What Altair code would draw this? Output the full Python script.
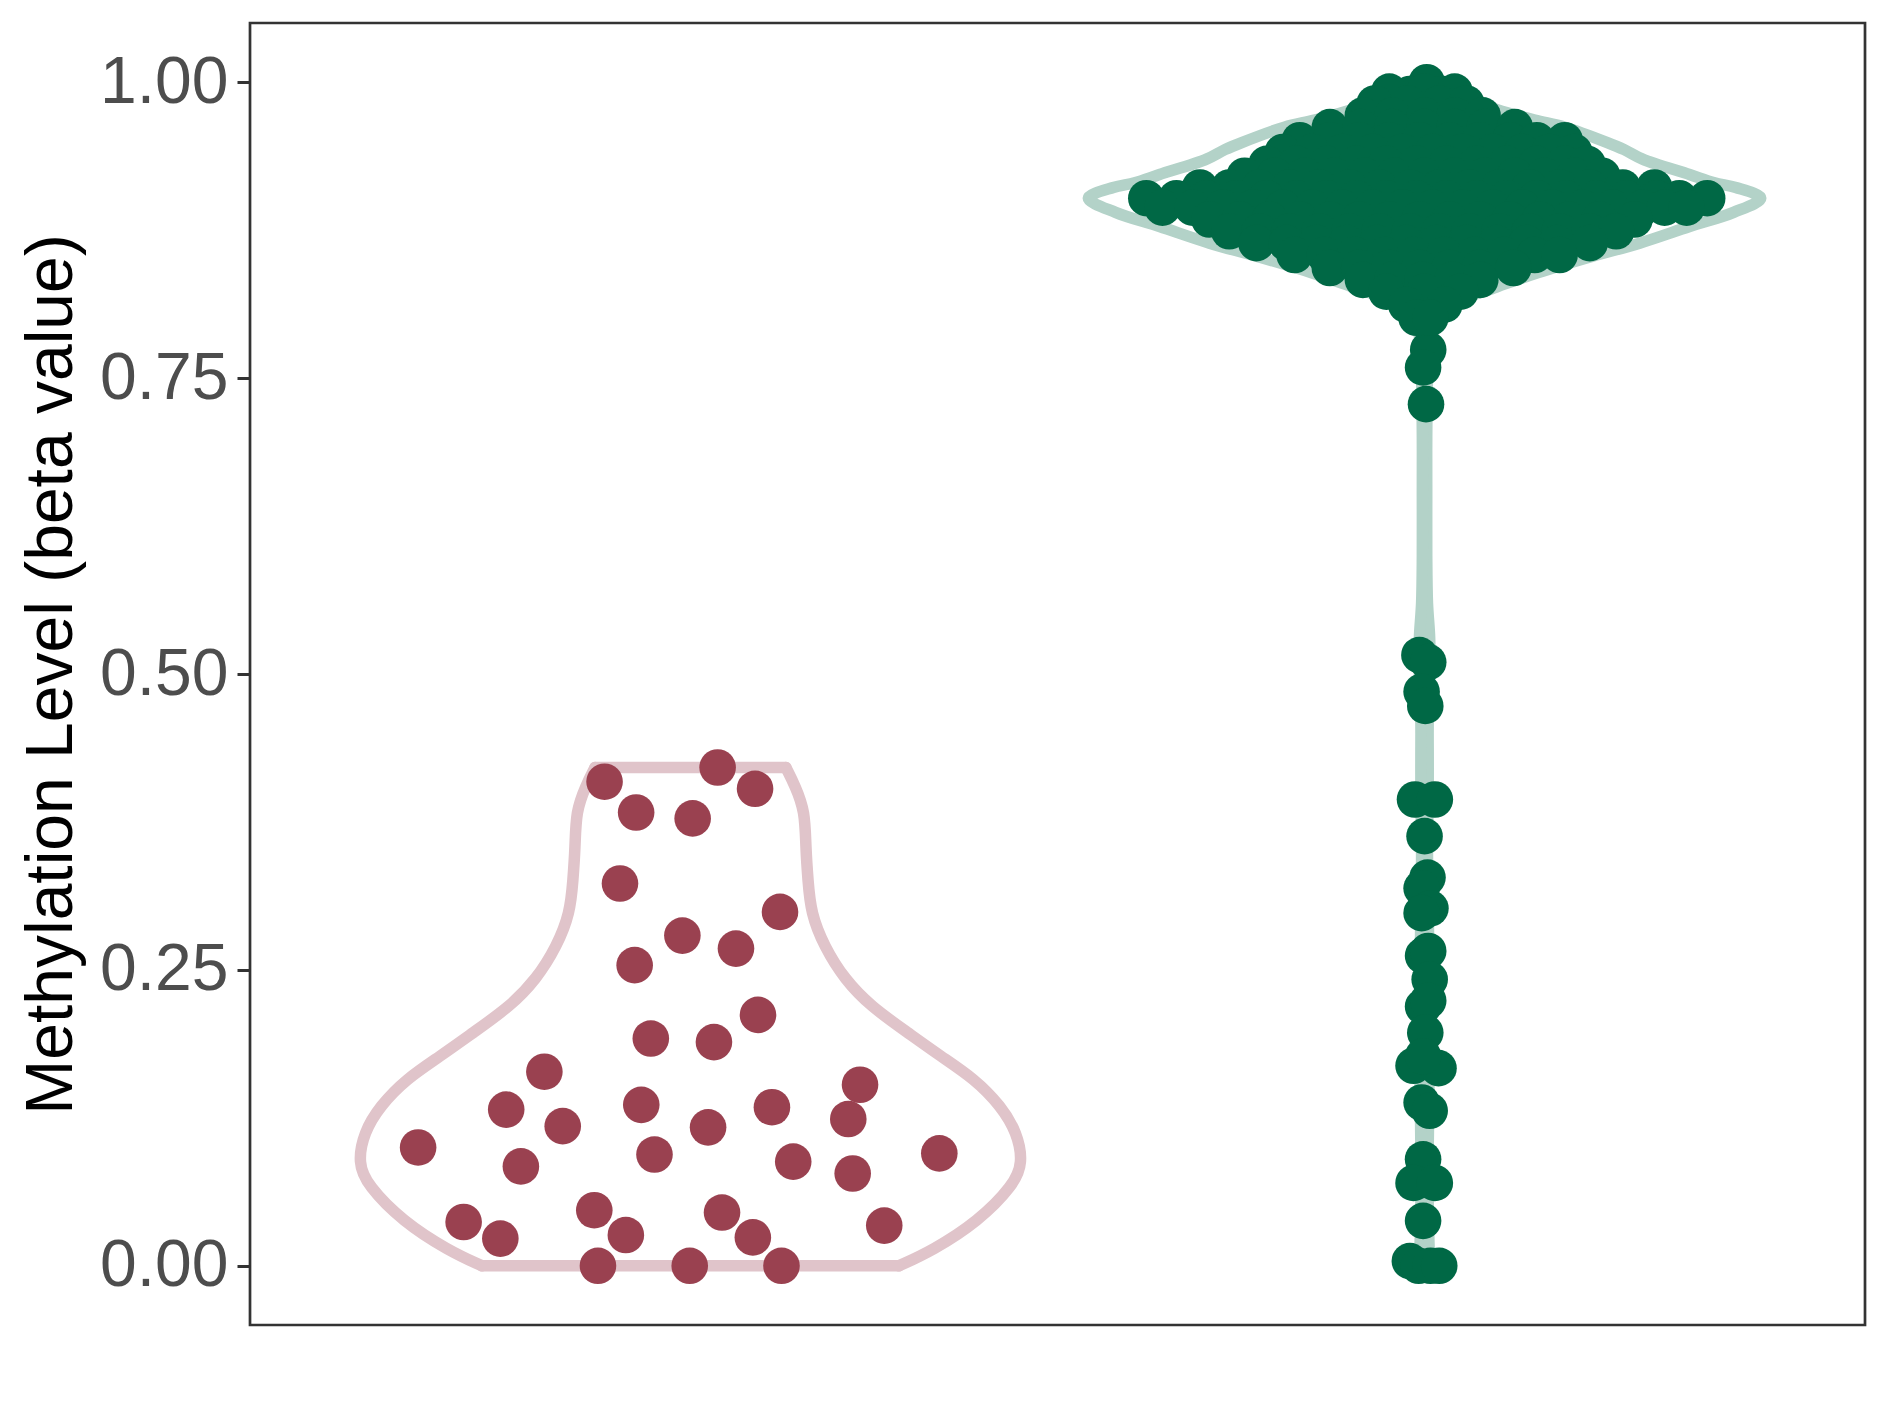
import altair as alt
import pandas as pd

# ---- groups -------------------------------------------------------------
group_keys = ["A", "B"]
group_pos = [1, 2]
violin_colors = ["#E0C4CA", "#B3D2C8"]
point_colors = ["#9A4150", "#006845"]

# ---- group A points (offset from group centre, beta value) -------------
g1_offset = [-0.117, -0.074, 0.003, -0.096, -0.011, -0.076, -0.054, 0.032,
             -0.199, -0.251, -0.174, -0.067, 0.024, -0.371, -0.231, -0.049,
             -0.309, -0.259, -0.131, -0.088, -0.126, -0.001, 0.037, 0.088,
             0.122, 0.062, 0.092, 0.111, 0.231, 0.215, 0.140, 0.221, 0.339,
             0.043, 0.085, 0.264, 0.124]
g1_beta = [0.409, 0.383, 0.378, 0.323, 0.279, 0.254, 0.192, 0.189,
           0.164, 0.132, 0.118, 0.136, 0.117, 0.100, 0.084, 0.094,
           0.037, 0.023, 0.047, 0.026, 0.0, 0.0, 0.421, 0.403,
           0.299, 0.268, 0.212, 0.134, 0.153, 0.124, 0.088, 0.078, 0.095,
           0.045, 0.024, 0.034, 0.0]

# ---- group B points: low tail -----------------------------------------
g2_tail_offset = [0.005, -0.002, 0.002, -0.007, 0.005, -0.004, 0.001,
                  -0.013, 0.014, 0.000, 0.004, -0.004, 0.008, -0.004,
                  -0.002, 0.005, 0.007, -0.002, 0.005, 0.001, -0.015,
                  0.019, -0.002, -0.004, 0.007, -0.002, -0.015, 0.014,
                  -0.002, -0.020, -0.008, 0.008, 0.020]
g2_tail_beta = [0.774, 0.759, 0.728, 0.516, 0.510, 0.485, 0.473,
                0.394, 0.394, 0.363, 0.328, 0.319, 0.302, 0.298,
                0.262, 0.266, 0.242, 0.219, 0.224, 0.197, 0.169,
                0.167, 0.177, 0.138, 0.131, 0.090, 0.070, 0.070,
                0.038, 0.004, 0.0, 0.0, 0.0]

# ---- group B points: dense upper cluster (row by row) -----------------
g2_blob_beta = [1.000, 0.990, 0.992, 0.982, 0.972, 0.962, 0.951, 0.941,
                0.931, 0.921, 0.911, 0.902, 0.894, 0.884, 0.874, 0.864,
                0.854, 0.843, 0.833, 0.823, 0.812, 0.801]
g2_blob_offset = [
    [0.003],
    [-0.020, 0.025],
    [-0.048, 0.0, 0.041],
    [-0.068, -0.023, 0.020, 0.057],
    [-0.084, -0.044, 0.0, 0.041, 0.079],
    [-0.129, -0.087, -0.044, 0.0, 0.041, 0.082, 0.123],
    [-0.170, -0.129, -0.089, -0.048, -0.007, 0.034, 0.075, 0.116, 0.153, 0.191],
    [-0.193, -0.153, -0.112, -0.071, -0.030, 0.011, 0.052, 0.093, 0.133, 0.170, 0.204],
    [-0.215, -0.174, -0.133, -0.093, -0.052, -0.011, 0.030, 0.071, 0.112, 0.153, 0.191, 0.222],
    [-0.245, -0.204, -0.163, -0.123, -0.082, -0.041, 0.0, 0.041, 0.082, 0.123, 0.163, 0.204, 0.242],
    [-0.306, -0.266, -0.225, -0.184, -0.143, -0.102, -0.061, -0.020, 0.020, 0.061, 0.102,
     0.143, 0.184, 0.225, 0.270, 0.313],
    [-0.379, -0.338, -0.297, -0.256, -0.215, -0.174, -0.133, -0.093, -0.052, -0.011, 0.030,
     0.071, 0.112, 0.153, 0.193, 0.234, 0.275, 0.316, 0.347, 0.385],
    [-0.357, -0.316, -0.275, -0.234, -0.193, -0.153, -0.112, -0.071, -0.030, 0.011, 0.052,
     0.093, 0.133, 0.174, 0.215, 0.256, 0.297, 0.327, 0.357],
    [-0.293, -0.252, -0.211, -0.170, -0.129, -0.089, -0.048, -0.007, 0.034, 0.075, 0.116,
     0.157, 0.197, 0.238, 0.286],
    [-0.266, -0.225, -0.184, -0.143, -0.102, -0.061, -0.020, 0.020, 0.061, 0.102, 0.143,
     0.184, 0.225, 0.261],
    [-0.229, -0.188, -0.147, -0.106, -0.065, -0.025, 0.016, 0.057, 0.098, 0.139, 0.180, 0.225],
    [-0.177, -0.136, -0.095, -0.054, -0.014, 0.027, 0.068, 0.109, 0.150, 0.184],
    [-0.129, -0.089, -0.048, -0.007, 0.034, 0.075, 0.121],
    [-0.084, -0.044, -0.003, 0.038, 0.076],
    [-0.052, 0.0, 0.049],
    [-0.025, 0.027],
    [-0.011, 0.008],
]

# ---- violin outlines (beta, half width) --------------------------------
v1_beta = [0.0, 0.013, 0.0375, 0.068, 0.087, 0.1125, 0.135, 0.158, 0.177,
           0.197, 0.219, 0.242, 0.270, 0.298, 0.326, 0.354, 0.384, 0.405, 0.421]
v1_half = [0.284, 0.330, 0.392, 0.440, 0.453, 0.445, 0.423, 0.387, 0.341,
           0.296, 0.246, 0.210, 0.182, 0.164, 0.160, 0.157, 0.156, 0.143, 0.130]

v2_beta = [0.0, 0.02, 0.05, 0.10, 0.15, 0.20, 0.25, 0.30, 0.35, 0.40, 0.43,
           0.46, 0.50, 0.53, 0.56, 0.60, 0.65, 0.70, 0.75, 0.78, 0.797,
           0.808, 0.816, 0.827, 0.839, 0.853, 0.864, 0.878, 0.890, 0.902,
           0.911, 0.915, 0.922, 0.935, 0.943, 0.949, 0.962, 0.968, 0.977,
           0.984, 0.990, 1.0]
v2_half = [0.007, 0.006, 0.005, 0.005, 0.006, 0.006, 0.006, 0.005, 0.004,
           0.005, 0.005, 0.005, 0.007, 0.007, 0.004, 0.003, 0.003, 0.003,
           0.004, 0.006, 0.011, 0.020, 0.048, 0.098, 0.154, 0.229, 0.293,
           0.361, 0.421, 0.458, 0.424, 0.395, 0.361, 0.297, 0.272, 0.249,
           0.191, 0.150, 0.098, 0.068, 0.041, 0.011]

# ---- build tables -------------------------------------------------------
pts = []
for dx, b in zip(g1_offset, g1_beta):
    pts.append({"g": "A", "x": group_pos[0] + dx, "beta": b, "col": point_colors[0]})
for dx, b in zip(g2_tail_offset, g2_tail_beta):
    pts.append({"g": "B", "x": group_pos[1] + dx, "beta": b, "col": point_colors[1]})
for b, row in zip(g2_blob_beta, g2_blob_offset):
    for dx in row:
        pts.append({"g": "B", "x": group_pos[1] + dx, "beta": b, "col": point_colors[1]})
points_df = pd.DataFrame(pts)


def sides(key, centre, ys, hws, col):
    rows = []
    for side in (1, -1):
        for k, (y, h) in enumerate(zip(ys, hws)):
            rows.append({"path": f"{key}{side}", "x": centre + side * h,
                         "beta": y, "k": k, "col": col})
    return pd.DataFrame(rows)


sides1_df = sides("A", group_pos[0], v1_beta, v1_half, violin_colors[0])
sides2_df = sides("B", group_pos[1], v2_beta, v2_half, violin_colors[1])
end_rows = []
for centre, ys, hws, col in [(group_pos[0], v1_beta, v1_half, violin_colors[0]),
                             (group_pos[1], v2_beta, v2_half, violin_colors[1])]:
    end_rows.append({"x": centre - hws[0], "x2": centre + hws[0], "beta": ys[0], "col": col})
    end_rows.append({"x": centre - hws[-1], "x2": centre + hws[-1], "beta": ys[-1], "col": col})
ends_df = pd.DataFrame(end_rows)

FONT = "Liberation Sans"
SW = 11.5
xscale = alt.Scale(domain=[0.4, 2.6], nice=False, zero=False)
yscale = alt.Scale(domain=[-0.05, 1.05], nice=False, zero=False)
yaxis = alt.Axis(values=[0, 0.25, 0.5, 0.75, 1.0], format=".2f",
                 title="Methylation Level (beta value)", grid=False, domain=False,
                 labelFont=FONT, labelFontSize=66, labelColor="#4D4D4D",
                 tickColor="#333333", tickSize=13, tickWidth=3, labelPadding=9,
                 titleFont=FONT, titleFontSize=66, titleFontWeight="normal",
                 titleColor="#000000", titlePadding=14)


def side_layer(df, interp):
    return alt.Chart(df).mark_line(
        strokeWidth=SW, strokeJoin="round", strokeCap="round",
        interpolate=interp).encode(
        x=alt.X("x:Q", scale=xscale, axis=None),
        y=alt.Y("beta:Q", scale=yscale, axis=yaxis),
        detail="path:N",
        order="k:Q",
        color=alt.Color("col:N", scale=None),
    )


violin1 = side_layer(sides1_df, "basis")
violin2 = side_layer(sides2_df, "catmull-rom")

violin_ends = alt.Chart(ends_df).mark_rule(strokeWidth=SW, strokeCap="round").encode(
    x=alt.X("x:Q", scale=xscale, axis=None),
    x2="x2:Q",
    y=alt.Y("beta:Q", scale=yscale, axis=yaxis),
    color=alt.Color("col:N", scale=None),
)

dots = alt.Chart(points_df).mark_circle(size=1340, opacity=1).encode(
    x=alt.X("x:Q", scale=xscale, axis=None),
    y=alt.Y("beta:Q", scale=yscale, axis=yaxis),
    color=alt.Color("col:N", scale=None),
)

chart = alt.layer(violin1, violin2, violin_ends, dots).properties(
    width=1615, height=1302, autosize="none",
    padding={"left": 242, "top": 15, "right": 16, "bottom": 80},
    background="white",
).configure_view(stroke="#333333", strokeWidth=2.7)

chart.save("out.html", embed_options={"renderer": "svg", "actions": False})
